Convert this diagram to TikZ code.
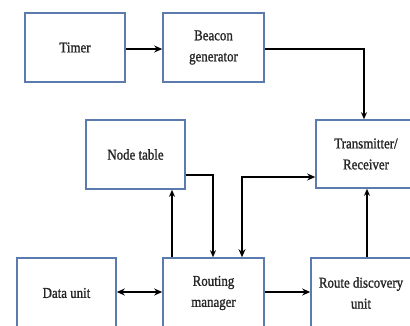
\documentclass[tikz,border=0pt]{standalone}
\usepackage{fontspec}
\setmainfont{Liberation Serif}
\newfontfamily\lblfont[FakeStretch=0.86,FakeBold=1.2]{Liberation Serif}
\usetikzlibrary{arrows.meta}
\begin{document}
\begin{tikzpicture}[x=1pt,y=-1pt,
  blk/.style={draw=boxblue,line width=1.6pt,fill=white,inner sep=0pt,align=center,text=black!85,font=\lblfont\fontsize{15}{21}\selectfont},
  thin/.style={line width=1.5pt,-{Stealth[length=7pt,width=6pt]}},
  thick/.style={line width=2.7pt,-{Stealth[length=8pt,width=7pt]}},
  boththick/.style={line width=2.7pt,{Stealth[length=8pt,width=7pt]}-{Stealth[length=8pt,width=7pt]}}]
\definecolor{boxblue}{HTML}{5B7BAE}
\useasboundingbox (0,0) rectangle (410,325);
\fill[white] (0,0) rectangle (410,325);
\node[blk,minimum width=100pt,minimum height=69pt] (timer) at (75,47.5) {Timer};
\node[blk,minimum width=101pt,minimum height=69pt] (beacon) at (213.5,47.5) {Beacon\\generator};
\node[blk,minimum width=99pt,minimum height=69pt] (nodetab) at (135.5,154.5) {Node table};
\node[blk,minimum width=100pt,minimum height=68pt] (trx) at (366,154) {Transmitter/\\Receiver};
\node[blk,minimum width=101pt,minimum height=70pt] (route) at (213.5,293) {Routing\\manager};
\node[blk,minimum width=99pt,minimum height=70pt] (data) at (66.5,293) {Data unit};
\node[blk,minimum width=100pt,minimum height=70pt] (disc) at (361,293) {Route discovery\\unit};
\coordinate (b1) at (364,49);
\draw[thick] (timer.east |- 0,49) -- (beacon.west |- 0,49);
\draw[thin] (beacon.east |- 0,49) -- (b1) -- (trx.north -| b1);
\draw[thin] (route.north -| 172,0) -- (nodetab.south -| 172,0);
\draw[thin] (nodetab.east |- 0,175) -- (213,175) -- (route.north -| 213,0);
\draw[boththick] (route.north -| 242,0) -- (242,177) -- (trx.west |- 0,177);
\draw[thin] (disc.north -| 367,0) -- (trx.south -| 367,0);
\draw[boththick] (data.east |- 0,292) -- (route.west |- 0,292);
\draw[thick] (route.east |- 0,292) -- (disc.west |- 0,292);
\end{tikzpicture}
\end{document}
